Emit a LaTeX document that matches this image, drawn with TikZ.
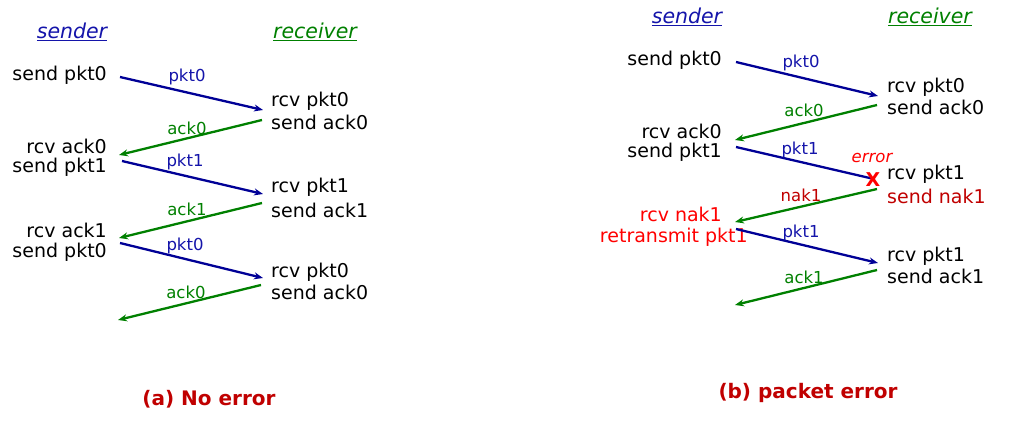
\documentclass[tikz,border=0pt]{standalone}
\usepackage{fontspec}
\setmainfont{DejaVu Sans}
\usetikzlibrary{arrows.meta}
\definecolor{dblue}{RGB}{0,0,150}
\definecolor{lblue}{RGB}{20,20,170}
\definecolor{dgreen}{RGB}{0,128,0}
\definecolor{dred}{RGB}{192,0,0}
\definecolor{bred}{RGB}{255,0,0}
\begin{document}
\begin{tikzpicture}[x=1pt,y=-1pt,
  txt/.style={inner sep=0pt,font=\fontsize{19}{22}\selectfont},
  lab/.style={inner sep=0pt,font=\fontsize{16.5}{19}\selectfont},
  hdr/.style={inner sep=0pt,font=\fontsize{20.5}{24}\selectfont\itshape},
  captxt/.style={inner sep=0pt,font=\fontsize{20}{24}\selectfont\bfseries,text=dred},
  pktarr/.style={draw=dblue,line width=2.3pt,-{Stealth[length=9pt,width=7pt]}},
  ackarr/.style={draw=dgreen,line width=2.3pt,-{Stealth[length=9pt,width=7pt]}}]
\useasboundingbox (0,0) rectangle (1021,424);
% ---------------- (a) ----------------
\node[hdr,text=lblue] (sA) at (72,32) {\underline{sender}};
\node[hdr,text=dgreen] (rA) at (315,32) {\underline{receiver}};
\node[txt,anchor=east] (a1) at (107,75) {send pkt0};
\node[txt,anchor=west] (a2) at (271,101) {rcv pkt0};
\node[txt,anchor=west] (a3) at (271,122) {send ack0};
\node[txt,anchor=east] (a4) at (107,146) {rcv ack0};
\node[txt,anchor=east] (a5) at (107,167) {send pkt1};
\node[txt,anchor=west] (a6) at (271,187) {rcv pkt1};
\node[txt,anchor=west] (a7) at (271,210) {send ack1};
\node[txt,anchor=east] (a8) at (107,230) {rcv ack1};
\node[txt,anchor=east] (a9) at (107,252) {send pkt0};
\node[txt,anchor=west] (a10) at (271,272) {rcv pkt0};
\node[txt,anchor=west] (a11) at (271,292) {send ack0};
\coordinate (p1s) at (120,77);  \coordinate (p1e) at (263,110);
\coordinate (k1s) at (262,120); \coordinate (k1e) at (119,155);
\coordinate (p2s) at (122,161); \coordinate (p2e) at (263,194);
\coordinate (k2s) at (262,203); \coordinate (k2e) at (119,238);
\coordinate (p3s) at (120,243); \coordinate (p3e) at (263,278);
\coordinate (k3s) at (261,285); \coordinate (k3e) at (118,320);
\draw[pktarr] (p1s) -- (p1e);
\draw[ackarr] (k1s) -- (k1e);
\draw[pktarr] (p2s) -- (p2e);
\draw[ackarr] (k2s) -- (k2e);
\draw[pktarr] (p3s) -- (p3e);
\draw[ackarr] (k3s) -- (k3e);
\node[lab,text=lblue] (l1) at (187,77) {pkt0};
\node[lab,text=dgreen] (l2) at (187,128) {ack0};
\node[lab,text=lblue] (l3) at (185,162) {pkt1};
\node[lab,text=dgreen] (l4) at (187,209) {ack1};
\node[lab,text=lblue] (l5) at (185,246) {pkt0};
\node[lab,text=dgreen] (l6) at (186,292) {ack0};
\node[captxt] (ca) at (209,399) {(a) No error};
% ---------------- (b) ----------------
\node[hdr,text=lblue] (sB) at (687,17) {\underline{sender}};
\node[hdr,text=dgreen] (rB) at (930,17) {\underline{receiver}};
\node[txt,anchor=east] (b1) at (722,60) {send pkt0};
\node[txt,anchor=west] (b2) at (887,87) {rcv pkt0};
\node[txt,anchor=west] (b3) at (887,107) {send ack0};
\node[txt,anchor=east] (b4) at (722,131) {rcv ack0};
\node[txt,anchor=east] (b5) at (722,152) {send pkt1};
\node[txt,anchor=west] (b6) at (887,174) {rcv pkt1};
\node[txt,anchor=west,text=dred] (b7) at (887,196) {send nak1};
\node[txt,anchor=east,text=bred] (b8) at (722,214) {rcv nak1};
\node[txt,anchor=east,text=bred] (b9) at (748,237) {retransmit pkt1};
\node[txt,anchor=west] (b10) at (887,256) {rcv pkt1};
\node[txt,anchor=west] (b11) at (887,276) {send ack1};
\coordinate (q1s) at (736,62);  \coordinate (q1e) at (878,96);
\coordinate (m1s) at (877,105); \coordinate (m1e) at (735,140);
\coordinate (q2s) at (736,147); \coordinate (q2e) at (874,179);
\coordinate (m2s) at (877,189); \coordinate (m2e) at (735,222);
\coordinate (q3s) at (736,229); \coordinate (q3e) at (878,263);
\coordinate (m3s) at (877,270); \coordinate (m3e) at (735,305);
\draw[pktarr] (q1s) -- (q1e);
\draw[ackarr] (m1s) -- (m1e);
\draw[draw=dblue,line width=2.3pt] (q2s) -- (q2e);
\draw[ackarr] (m2s) -- (m2e);
\draw[pktarr] (q3s) -- (q3e);
\draw[ackarr] (m3s) -- (m3e);
\node[inner sep=0pt,text=bred,font=\fontsize{19}{22}\selectfont\bfseries] (xx) at (873,180) {X};
\node[lab,text=bred,font=\fontsize{16.5}{19}\selectfont\itshape] (er) at (872,158) {error};
\node[lab,text=lblue] (n1) at (801,63) {pkt0};
\node[lab,text=dgreen] (n2) at (804,110) {ack0};
\node[lab,text=lblue] (n3) at (800,150) {pkt1};
\node[lab,text=dred] (n4) at (801,195) {nak1};
\node[lab,text=lblue] (n5) at (801,233) {pkt1};
\node[lab,text=dgreen] (n6) at (804,277) {ack1};
\node[captxt] (cb) at (808,393) {(b) packet error};
\end{tikzpicture}
\end{document}
